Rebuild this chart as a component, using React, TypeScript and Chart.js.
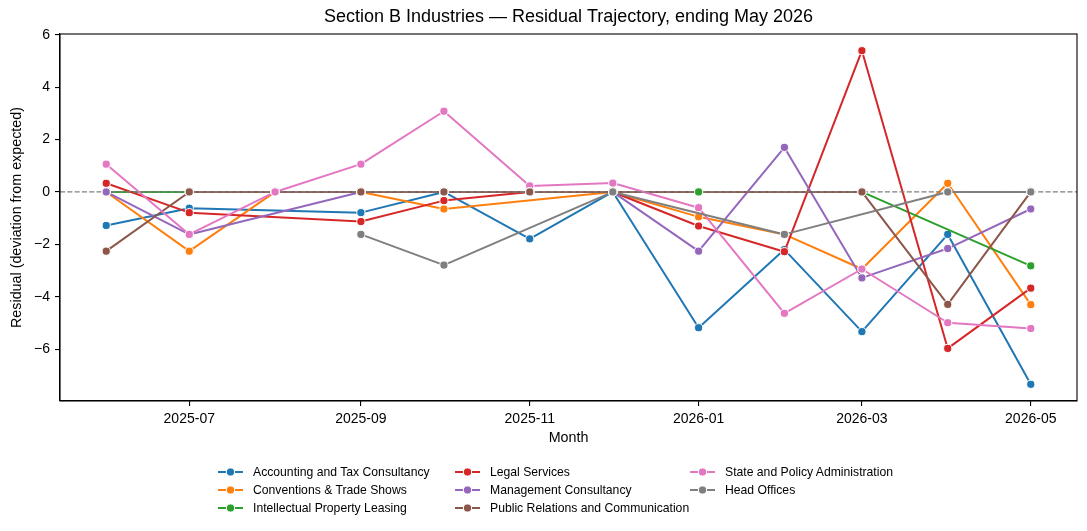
import React, { useEffect, useRef } from 'react';
import { Chart, registerables } from 'chart.js';

Chart.register(...registerables);

// Monthly residuals per industry (null = no observation that month)
const MONTHS = ['2025-06', '2025-07', '2025-08', '2025-09', '2025-10', '2025-11', '2025-12', '2026-01', '2026-02', '2026-03', '2026-04', '2026-05'];
const TICK_MONTHS = ['2025-07', '2025-09', '2025-11', '2026-01', '2026-03', '2026-05'];
const Y_TICKS = [-6, -4, -2, 0, 2, 4, 6];

const ACCOUNTING = [-1.28, -0.62, null, -0.79, 0, -1.79, 0, -5.18, -2.2, -5.33, -1.62, -7.34];
const CONVENTIONS = [0, -2.26, 0, 0, -0.65, null, 0, -0.95, -1.62, -2.94, 0.33, -4.3];
const IP_LEASING = [0, 0, 0, 0, 0, 0, 0, 0, null, 0, null, -2.82];
const LEGAL = [0.33, -0.79, null, -1.13, -0.33, 0, 0, -1.3, -2.28, 5.39, -5.97, -3.67];
const MANAGEMENT = [0, -1.62, null, 0, 0, 0, 0, -2.26, 1.7, -3.28, -2.16, -0.65];
const PUBLIC_RELATIONS = [-2.26, 0, 0, 0, 0, 0, 0, null, null, 0, -4.29, 0];
const STATE_POLICY = [1.06, -1.62, 0, 1.06, 3.08, 0.23, 0.34, -0.6, -4.63, -2.94, -4.99, -5.21];
const HEAD_OFFICES = [null, null, null, -1.62, -2.79, null, 0, null, -1.62, null, 0, 0];

const LABELS = [
  'Accounting and Tax Consultancy',
  'Conventions & Trade Shows',
  'Intellectual Property Leasing',
  'Legal Services',
  'Management Consultancy',
  'Public Relations and Communication',
  'State and Policy Administration',
  'Head Offices',
];
const COLORS = ['#1f77b4', '#ff7f0e', '#2ca02c', '#d62728', '#9467bd', '#8c564b', '#e377c2', '#7f7f7f'];
const VALUES = [ACCOUNTING, CONVENTIONS, IP_LEASING, LEGAL, MANAGEMENT, PUBLIC_RELATIONS, STATE_POLICY, HEAD_OFFICES];

const TITLE = 'Section B Industries \u2014 Residual Trajectory, ending May 2026';
const FONT = "'Liberation Sans', Arial, sans-serif";

const W = 1087;
const H = 531;

const toTime = (m: string) => {
  const [y, mo] = m.split('-').map(Number);
  return Date.UTC(y, mo - 1, 1);
};
const fmtMonth = (v: number) => {
  const d = new Date(v);
  return `${d.getUTCFullYear()}-${String(d.getUTCMonth() + 1).padStart(2, '0')}`;
};

const titlePlugin = {
  id: 'axesTitle',
  afterDraw(chart: any) {
    const { ctx, chartArea } = chart;
    ctx.save();
    ctx.font = `18px ${FONT}`;
    ctx.fillStyle = '#000';
    ctx.textAlign = 'center';
    ctx.textBaseline = 'middle';
    ctx.fillText(TITLE, (chartArea.left + chartArea.right) / 2, 17);
    ctx.restore();
  },
};

const framePlugin = {
  id: 'frame',
  afterDraw(chart: any) {
    const { ctx, chartArea: a } = chart;
    ctx.save();
    ctx.strokeStyle = '#000';
    ctx.lineWidth = 1.1;
    ctx.strokeRect(a.left, a.top, a.right - a.left, a.bottom - a.top);
    ctx.restore();
  },
};

// Dashed reference line at zero, with the markers sitting on it repainted above
const zeroLinePlugin = {
  id: 'zeroLine',
  afterDatasetsDraw(chart: any) {
    const { ctx, chartArea: a } = chart;
    const y0 = chart.scales.y.getPixelForValue(0);
    ctx.save();
    ctx.beginPath();
    ctx.rect(a.left, a.top, a.right - a.left, a.bottom - a.top);
    ctx.clip();
    ctx.setLineDash([5.1, 2.2]);
    ctx.strokeStyle = '#808080';
    ctx.lineWidth = 1.3;
    ctx.beginPath();
    ctx.moveTo(a.left, y0);
    ctx.lineTo(a.right, y0);
    ctx.stroke();
    ctx.setLineDash([]);
    const metas = chart.getSortedVisibleDatasetMetas();
    for (let i = metas.length - 1; i >= 0; i--) {
      const meta = metas[i];
      const pts = chart.data.datasets[meta.index].data;
      meta.data.forEach((el: any, j: number) => {
        if (pts[j] && pts[j].y === 0) el.draw(ctx, a);
      });
    }
    ctx.restore();
  },
};

function LegendHandle({ color }: { color: string }) {
  return (
    <svg width={25} height={10} style={{ display: 'block' }}>
      <line x1={0} y1={5} x2={25} y2={5} stroke={color} strokeWidth={2} />
      <circle cx={12.5} cy={5} r={4.1} fill={color} stroke="#fff" strokeWidth={1} />
    </svg>
  );
}

const LEGEND_COL_X = [218, 455, 690];
const LEGEND_ROW_Y = [472, 490, 508];

export default function App() {
  const canvasRef = useRef<HTMLCanvasElement | null>(null);

  useEffect(() => {
    const canvas = canvasRef.current;
    if (!canvas) return;

    const xFirst = toTime(MONTHS[0]);
    const xLast = toTime(MONTHS[MONTHS.length - 1]);
    const xPad = (xLast - xFirst) * 0.05;
    const all = VALUES.flat().filter((v) => v !== null) as number[];
    const yMin = Math.min(...all);
    const yMax = Math.max(...all);
    const yPad = (yMax - yMin) * 0.05;

    const n = LABELS.length;
    const datasets = LABELS.map((label, i) => ({
      label,
      data: MONTHS.map((m, j) => ({ x: toTime(m), y: VALUES[i][j] }))
        .filter((p) => p.y !== null),
      borderColor: COLORS[i],
      backgroundColor: COLORS[i],
      borderWidth: 2,
      pointRadius: 4.1,
      pointBorderWidth: 1,
      pointBorderColor: '#fff',
      pointBackgroundColor: COLORS[i],
      pointHoverRadius: 4.1,
      borderJoinStyle: 'round' as const,
      tension: 0,
      fill: false,
      order: n - 1 - i,
    }));

    const tickFont = { family: FONT, size: 14 };
    const labelFont = { family: FONT, size: 14.3 };

    const chart = new Chart(canvas, {
      type: 'line',
      data: { datasets },
      plugins: [zeroLinePlugin, framePlugin, titlePlugin],
      options: {
        animation: false,
        responsive: false,
        maintainAspectRatio: false,
        events: [],
        layout: { padding: { top: 34, right: 10, bottom: H - 401 - 50, left: 0 } },
        plugins: {
          legend: { display: false },
          tooltip: { enabled: false },
          title: { display: false },
        },
        scales: {
          x: {
            type: 'linear',
            min: xFirst - xPad,
            max: xLast + xPad,
            afterBuildTicks: (s: any) => {
              s.ticks = TICK_MONTHS.map((m) => ({ value: toTime(m) }));
            },
            afterFit: (s: any) => {
              s.height = 50;
            },
            ticks: {
              callback: (v: any) => fmtMonth(Number(v)),
              font: tickFont,
              color: '#000',
              padding: 5,
              maxRotation: 0,
              autoSkip: false,
            },
            grid: {
              display: true,
              drawOnChartArea: false,
              drawTicks: true,
              tickLength: 5,
              color: '#000',
              lineWidth: 1.1,
            },
            border: { display: true, color: '#000', width: 1.1 },
            title: {
              display: true,
              text: 'Month',
              font: labelFont,
              color: '#000',
              padding: { top: 0, bottom: 4.2 },
            },
          },
          y: {
            type: 'linear',
            min: yMin - yPad,
            max: yMax + yPad,
            afterBuildTicks: (s: any) => {
              s.ticks = Y_TICKS.map((v) => ({ value: v }));
            },
            afterFit: (s: any) => {
              s.width = 60;
            },
            ticks: {
              callback: (v: any) => (Number(v) < 0 ? '\u2212' + Math.abs(Number(v)) : String(v)),
              font: tickFont,
              color: '#000',
              padding: 5,
              autoSkip: false,
            },
            grid: {
              display: true,
              drawOnChartArea: false,
              drawTicks: true,
              tickLength: 5,
              color: '#000',
              lineWidth: 1.1,
            },
            border: { display: true, color: '#000', width: 1.1 },
            title: {
              display: true,
              text: 'Residual (deviation from expected)',
              font: labelFont,
              color: '#000',
              padding: { top: 8.5, bottom: 0 },
            },
          },
        },
      },
    });

    return () => chart.destroy();
  }, []);

  return (
    <div
      style={{
        position: 'fixed',
        left: 0,
        top: 0,
        width: W,
        height: H,
        background: '#fff',
        fontFamily: FONT,
      }}
    >
      <canvas ref={canvasRef} width={W} height={H} style={{ width: W, height: H, display: 'block' }} />
      {LABELS.map((label, i) => {
        const col = Math.floor(i / 3);
        const row = i % 3;
        return (
          <div
            key={label}
            style={{
              position: 'absolute',
              left: LEGEND_COL_X[col],
              top: LEGEND_ROW_Y[row] - 9,
              height: 18,
              display: 'flex',
              alignItems: 'center',
              whiteSpace: 'nowrap',
              fontSize: 12.2,
              color: '#000',
            }}
          >
            <LegendHandle color={COLORS[i]} />
            <span style={{ marginLeft: 10 }}>{label}</span>
          </div>
        );
      })}
    </div>
  );
}
